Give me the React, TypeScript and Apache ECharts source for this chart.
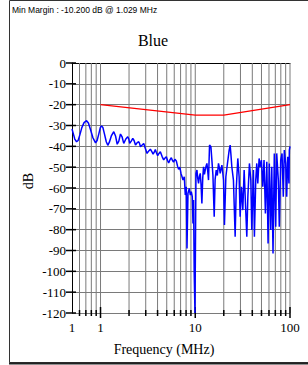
import React, { useEffect, useRef } from "react";
import * as echarts from "echarts";

const chartTitle = "Blue";
const marginText = "Min Margin : -10.200 dB @ 1.029 MHz";
const xName = "Frequency (MHz)";
const yName = "dB";

// Limit line (MHz, dB)
const limitFreqs = [1, 10, 20, 100];
const limitDb = [-20, -25, -25, -20];

// Measured trace (MHz, dB)
const traceFreqs = [
  0.5, 0.515, 0.535, 0.559, 0.58, 0.605, 0.635, 0.67, 0.712, 0.745, 0.785, 0.83, 0.886, 0.92, 0.96, 0.995,
  1.024, 1.06, 1.1, 1.15, 1.193, 1.24, 1.3, 1.38, 1.44, 1.5, 1.56, 1.624, 1.69, 1.758, 1.85, 1.94, 1.99, 2.03,
  2.11, 2.19, 2.26, 2.34, 2.44, 2.53, 2.58, 2.64, 2.75, 2.86, 2.98, 3.1, 3.23, 3.36, 3.48, 3.59, 3.69, 3.79,
  3.9, 4.01, 4.14, 4.28, 4.46, 4.64, 4.8, 4.95, 5.1, 5.24, 5.4, 5.59, 5.75, 5.91, 6.1, 6.31, 6.5, 6.67, 6.87,
  7.07, 7.25, 7.42, 7.66, 7.85, 8.04, 8.18, 8.38, 8.65, 8.86, 9.08, 9.3, 9.46, 9.6, 9.75, 9.93, 10.17, 10.42,
  10.6, 10.83, 11.05, 11.29, 11.5, 11.75, 12.0, 12.23, 12.5, 12.74, 13.0, 13.27, 13.55, 13.8, 14.15, 14.63,
  15.0, 15.36, 15.85, 16.2, 16.64, 17.1, 17.59, 18.0, 18.33, 18.7, 19.1, 19.5, 19.87, 20.33, 21.04, 21.5,
  21.88, 22.8, 23.35, 23.8, 24.32, 25.29, 26.37, 27.04, 28.12, 29.04, 29.77, 30.71, 31.77, 32.81, 33.81,
  35.0, 35.9, 37.3, 38.6, 39.5, 41.1, 42.1, 43.5, 44.6, 45.7, 47.2, 48.3, 49.9, 51.6, 53.2, 55.0, 56.9, 58.7,
  60.5, 62.6, 64.2, 66.2, 68.3, 70.7, 72.4, 75.3, 77.1, 79.8, 82.4, 85.0, 87.1, 90.1, 92.3, 94.6, 97.5, 98.4,
  100,
];
const traceDb = [
  -31.7, -33.8, -36.5, -37.8, -37.2, -34.5, -31, -28.6, -27.7, -28.8, -32, -35.8, -38.3, -37.2, -34, -31,
  -30.2, -31, -34, -37.8, -39.5, -38, -35, -33, -35, -39, -37.5, -34.1, -35.5, -38.6, -36.5, -35.4, -36.5, -38.6,
  -37.5, -36.2, -37.2, -39.4, -38.2, -37.8, -38.6, -40.2, -39.4, -38.6, -41.2, -43.4, -42.2, -41.4, -42.5, -43.7, -42.8, -41.5,
  -43.2, -44.5, -43.4, -42.6, -44.8, -46.5, -45.6, -45, -46.8, -48, -46.5, -45.5, -46.8, -47.6, -46.2, -47, -49.5, -51, -50,
  -53, -54.6, -56.2, -54.6, -63.4, -59.4, -89, -62.6, -60.2, -63.4, -61.8, -64.2, -77, -65.8, -101, -120, -53, -51.4,
  -55, -57.8, -54.5, -53, -58, -67.4, -55, -49.8, -53.5, -51.4, -49.5, -48.2, -52, -56.2, -39.4, -40.2,
  -47, -53.8, -73.8, -56, -51.4, -54, -48.2, -50.5, -53, -51, -49, -52.5, -56.2, -77.8, -54.6, -51,
  -48.2, -41.8, -39.4, -44, -49.8, -56.2, -83.4, -61, -45.8, -54.6, -73.8, -59.4, -70.6, -51.4, -66.6,
  -83.4, -64.2, -48.2, -56.2, -80.2, -51.4, -83.4, -56.2, -48.2, -57.8, -45.8, -49.8, -46.6, -59.4, -46.6, -72.2, -47.4, -86.6,
  -48.2, -80.2, -49.8, -91.4, -43.4, -78.6, -43.4, -56.2, -78.6, -46.6, -43.4, -64.2, -41.8, -48.2, -64.2, -45, -57.8, -41.8,
  -40,
];

// Vertical grid lines (MHz) and major x ticks
const gridFreqs = [0.6, 0.7, 0.8, 0.9, 1, 2, 3, 4, 5, 6, 7, 8, 9, 10, 20, 30, 40, 50, 60, 70, 80, 90, 100];
const majorFreqs = [1, 10, 100];
const yTickValues = [0, -10, -20, -30, -40, -50, -60, -70, -80, -90, -100, -110, -120];

const X_MIN = 0.5;
const X_MAX = 100;
const Y_MIN = -120;
const Y_MAX = 0;

export default function App() {
  const ref = useRef<HTMLDivElement>(null);
  useEffect(() => {
    if (!ref.current) return;
    const chart = echarts.init(ref.current, undefined, { renderer: "svg" });
    const serif = "'Liberation Serif', 'Times New Roman', serif";
    const option: any = {
      animation: false,
      backgroundColor: "#ffffff",
      grid: { left: 72, top: 63, right: 18, bottom: 52, containLabel: false },
      xAxis: {
        type: "log",
        logBase: 10,
        min: X_MIN,
        max: X_MAX,
        axisLine: { show: true, lineStyle: { color: "#000", width: 1 } },
        axisTick: { show: false },
        splitLine: { show: false },
        minorTick: { show: false },
        axisLabel: {
          color: "#000",
          fontFamily: serif,
          fontSize: 13,
          margin: 8,
          showMinLabel: true,
          showMaxLabel: true,
          formatter: (v: number) => String(Math.round(v)),
        },
      },
      yAxis: {
        type: "value",
        min: Y_MIN,
        max: Y_MAX,
        interval: 10,
        axisLine: { show: true, onZero: false, lineStyle: { color: "#000", width: 1 } },
        axisTick: { show: false },
        splitLine: { show: true, lineStyle: { color: "#7a7a7a", width: 1 } },
        axisLabel: { color: "#000", fontFamily: serif, fontSize: 13, margin: 6 },
      },
      graphic: [
        {
          type: "rect",
          shape: { x: 9.5, y: 0.5, width: 320, height: 362 },
          style: { fill: "none", stroke: "#333", lineWidth: 1 },
          silent: true,
        },
        {
          type: "line",
          shape: { x1: 9, y1: 363.5, x2: 308, y2: 363.5 },
          style: { stroke: "#222", lineWidth: 2 },
          silent: true,
        },
        {
          type: "text",
          x: 12,
          y: 10,
          style: {
            text: marginText,
            fontFamily: "'Liberation Sans', Arial, sans-serif",
            fontSize: 8.5,
            fill: "#000",
            verticalAlign: "middle",
          },
        },
        {
          type: "text",
          x: 153,
          y: 40,
          style: {
            text: chartTitle,
            fontFamily: serif,
            fontSize: 16,
            fill: "#000",
            align: "center",
            verticalAlign: "middle",
          },
        },
        {
          type: "text",
          x: 164,
          y: 349,
          style: {
            text: xName,
            fontFamily: serif,
            fontSize: 14,
            fill: "#000",
            align: "center",
            verticalAlign: "middle",
          },
        },
        {
          type: "text",
          x: 28,
          y: 181,
          rotation: Math.PI / 2,
          style: {
            text: yName,
            fontFamily: serif,
            fontSize: 14,
            fill: "#000",
            align: "center",
            verticalAlign: "middle",
          },
        },
      ],
      series: [
        {
          type: "custom",
          z: 1,
          clip: false,
          silent: true,
          data: gridFreqs.map((f) => [f]),
          renderItem: (params: any, api: any) => {
            const f = api.value(0);
            const top = api.coord([f, Y_MAX]);
            const bot = api.coord([f, Y_MIN]);
            const major = majorFreqs.indexOf(f) >= 0;
            const children: any[] = [
              {
                type: "line",
                shape: { x1: top[0], y1: top[1], x2: bot[0], y2: bot[1] },
                style: { stroke: "#7a7a7a", lineWidth: 1 },
              },
              {
                type: "line",
                shape: {
                  x1: bot[0],
                  y1: bot[1] - (major ? 6 : 3),
                  x2: bot[0],
                  y2: bot[1] + (major ? 5 : 3),
                },
                style: { stroke: "#000", lineWidth: 1.5 },
              },
            ];
            return { type: "group", children };
          },
        },
        {
          type: "custom",
          z: 4,
          clip: false,
          silent: true,
          data: yTickValues.map((v) => [X_MIN, v]),
          renderItem: (params: any, api: any) => {
            const p = api.coord([api.value(0), api.value(1)]);
            return {
              type: "line",
              shape: { x1: p[0] - 6, y1: p[1], x2: p[0] + 4, y2: p[1] },
              style: { stroke: "#000", lineWidth: 1.5 },
            };
          },
        },
        {
          type: "line",
          z: 3,
          data: limitFreqs.map((f, i) => [f, limitDb[i]]),
          showSymbol: false,
          symbol: "none",
          lineStyle: { color: "#ff0000", width: 1.3 },
        },
        {
          type: "line",
          z: 3,
          data: traceFreqs.map((f, i) => [f, traceDb[i]]),
          showSymbol: false,
          symbol: "none",
          lineStyle: { color: "#0000ff", width: 1.5 },
        },
      ],
    };
    chart.setOption(option);
    return () => chart.dispose();
  }, []);
  return (
    <div
      ref={ref}
      style={{ position: "fixed", left: 0, top: 0, width: 308, height: 365, background: "#fff" }}
    />
  );
}
